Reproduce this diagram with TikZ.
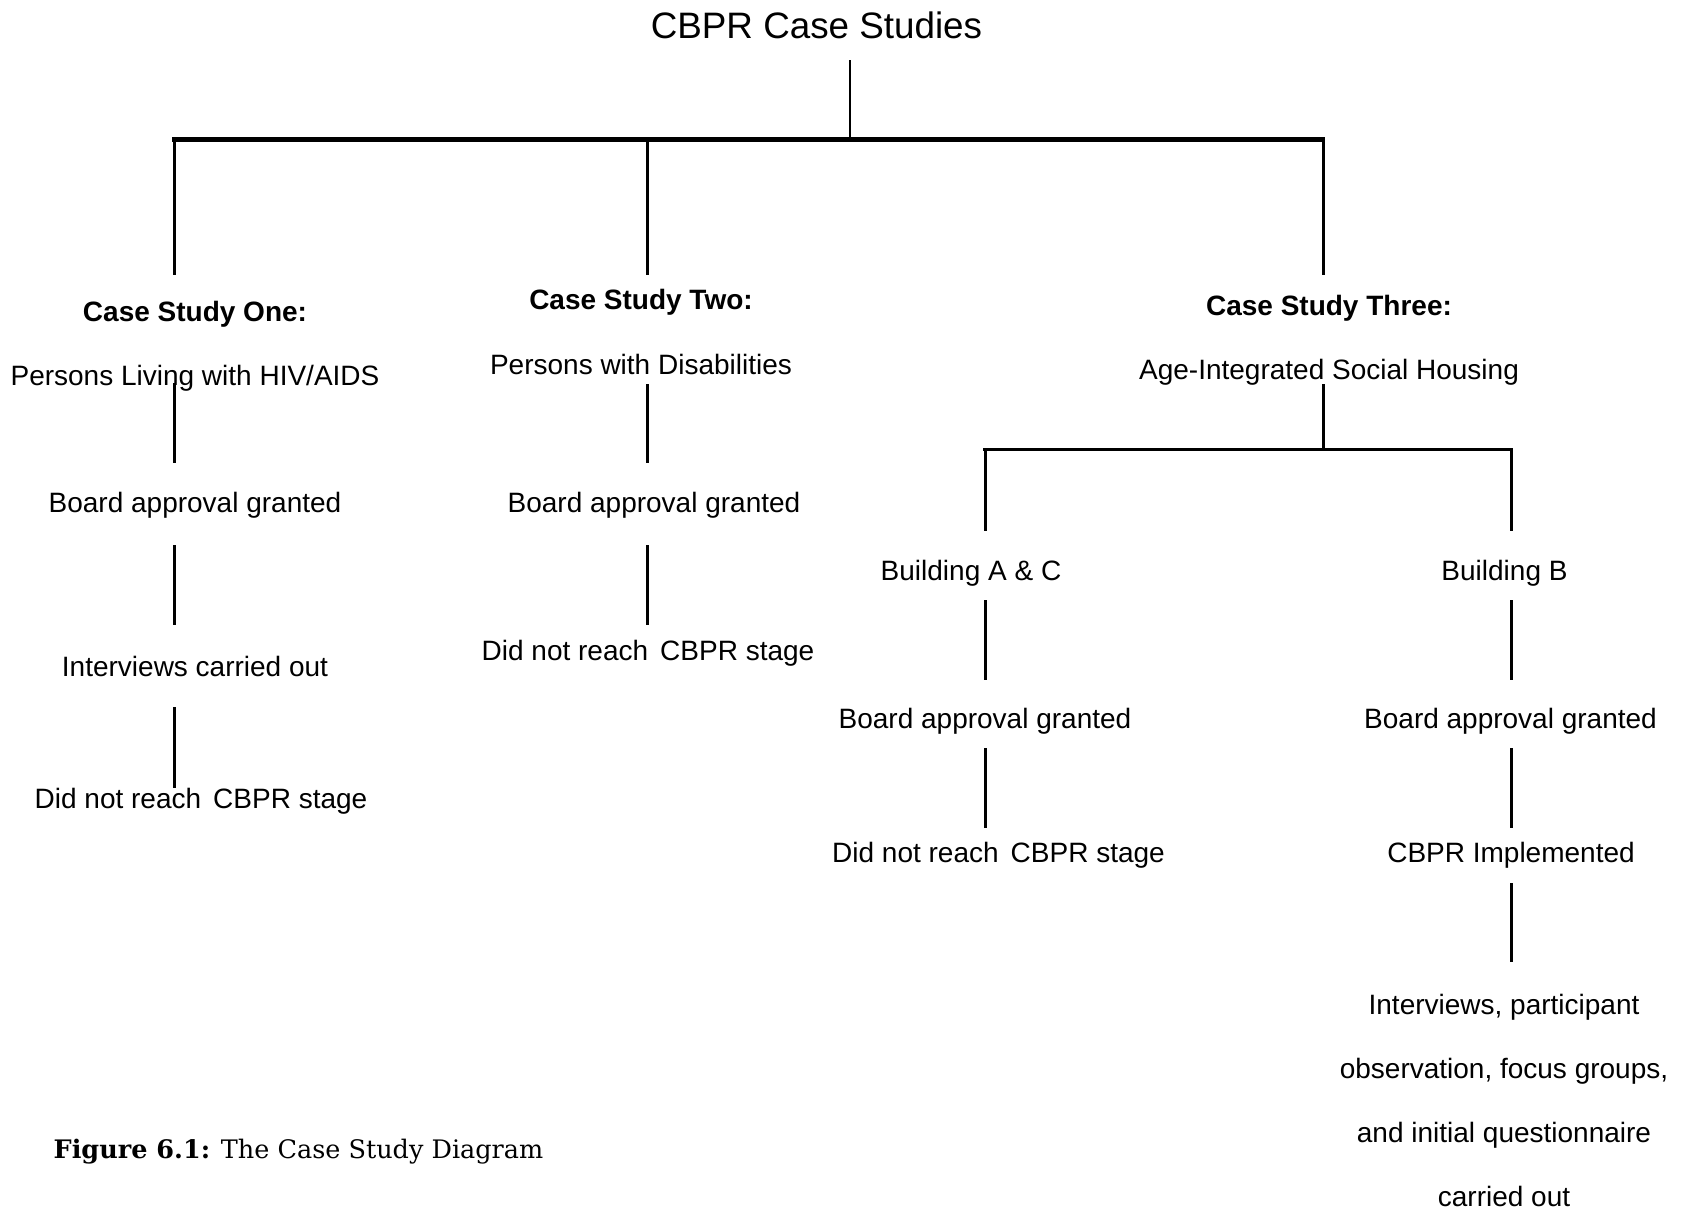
\documentclass[tikz,border=0pt]{standalone}
\usepackage{fontspec}
\setmainfont{Liberation Sans}
\newfontfamily\capfont{DejaVu Serif}
\usepackage{tikz}
\tikzset{
  txt/.style={inner sep=0pt, anchor=base, text height=20pt, text depth=6pt, font=\fontsize{28}{34}\selectfont},
  head/.style={txt, font=\fontsize{28}{34}\selectfont\bfseries},
  link/.style={line width=3pt},
  gap/.style 2 args={shorten <=#1, shorten >=#2},
}

\begin{document}
\begin{tikzpicture}[x=1pt, y=-1pt]
\useasboundingbox (0,0) rectangle (1682,1212);
\node[inner sep=0pt, anchor=base, font=\fontsize{36.8}{40}\selectfont] (T) at (816.5,38.5) {CBPR Case Studies};
\coordinate (J0) at (850,139.5);
\coordinate (J1) at (174.5,139.5);
\coordinate (J2) at (647,139.5);
\coordinate (J3) at (1323,139.5);
\draw[line width=2pt, gap={21pt}{0pt}] (T.south -| J0) -- (J0);
\draw[line width=4.5pt, line cap=rect] (J1) -- (J3);
\begin{scope}
\node[head] (C1) at (195,321) {Case Study One:};
\node[txt] (P1) at (195,385.5) {Persons Living with HIV/AIDS};
\node[txt] (G1) at (195,512) {Board approval granted};
\node[txt] (I1) at (195,676) {Interviews carried out};
\node[txt] (D1) at (201,808) {Did not reach\hskip 12pt CBPR stage};
\draw[link, gap={0pt}{26pt}] (J1) -- (C1.north -| J1);
\draw[link, gap={-8.5pt}{29pt}] (P1.south -| J1) -- (G1.north -| J1);
\draw[link, gap={27pt}{31pt}] (G1.south -| J1) -- (I1.north -| J1);
\draw[link, gap={25pt}{0pt}] (I1.south -| J1) -- (D1.north -| J1);
\end{scope}
\begin{scope}
\node[head] (C2) at (641,309.5) {Case Study Two:};
\node[txt] (P2) at (641,374) {Persons with Disabilities};
\node[txt] (G2) at (654,512) {Board approval granted};
\node[txt] (D2) at (648,660) {Did not reach\hskip 12pt CBPR stage};
\draw[link, gap={0pt}{14.5pt}] (J2) -- (C2.north -| J2);
\draw[link, gap={4pt}{29pt}] (P2.south -| J2) -- (G2.north -| J2);
\draw[link, gap={27pt}{15pt}] (G2.south -| J2) -- (D2.north -| J2);
\end{scope}
\begin{scope}
\node[head] (C3) at (1329,315) {Case Study Three:};
\node[txt] (P3) at (1329,379) {Age-Integrated Social Housing};
\coordinate (K0) at (1323,449.5);
\coordinate (K1) at (985,449.5);
\coordinate (K2) at (1511.5,449.5);
\draw[link, gap={0pt}{20pt}] (J3) -- (C3.north -| J3);
\draw[link, gap={-1pt}{0pt}] (P3.south -| K0) -- (K0);
\draw[line width=3.5pt, line cap=rect] (K1) -- (K2);
\node[txt] (BA) at (971,580) {Building A \& C};
\node[txt] (BB) at (1504.5,580) {Building B};
\node[txt] (GA) at (985,728) {Board approval granted};
\node[txt] (GB) at (1510.5,728) {Board approval granted};
\node[txt] (DA) at (998.5,862) {Did not reach\hskip 12pt CBPR stage};
\node[txt] (IB) at (1511,862) {CBPR Implemented};
\node[inner sep=0pt, anchor=north, align=center, font=\fontsize{28}{64}\selectfont] (OB) at (1504,994) {Interviews, participant\\observation, focus groups,\\and initial questionnaire\\carried out};
\draw[link, gap={0pt}{29pt}] (K1) -- (BA.north -| K1);
\draw[link, gap={0pt}{29pt}] (K2) -- (BB.north -| K2);
\draw[link, gap={14pt}{28pt}] (BA.south -| K1) -- (GA.north -| K1);
\draw[link, gap={14pt}{28pt}] (BB.south -| K2) -- (GB.north -| K2);
\draw[link, gap={14pt}{14pt}] (GA.south -| K1) -- (DA.north -| K1);
\draw[link, gap={14pt}{14pt}] (GB.south -| K2) -- (IB.north -| K2);
\draw[link, gap={15pt}{32pt}] (IB.south -| K2) -- (OB.north -| K2);
\end{scope}
\node[inner sep=0pt, anchor=base west, font=\capfont\fontsize{25.5}{30}\selectfont] (F) at (53.5,1158) {\textbf{Figure 6.1:} The Case Study Diagram};
\end{tikzpicture}
\end{document}
